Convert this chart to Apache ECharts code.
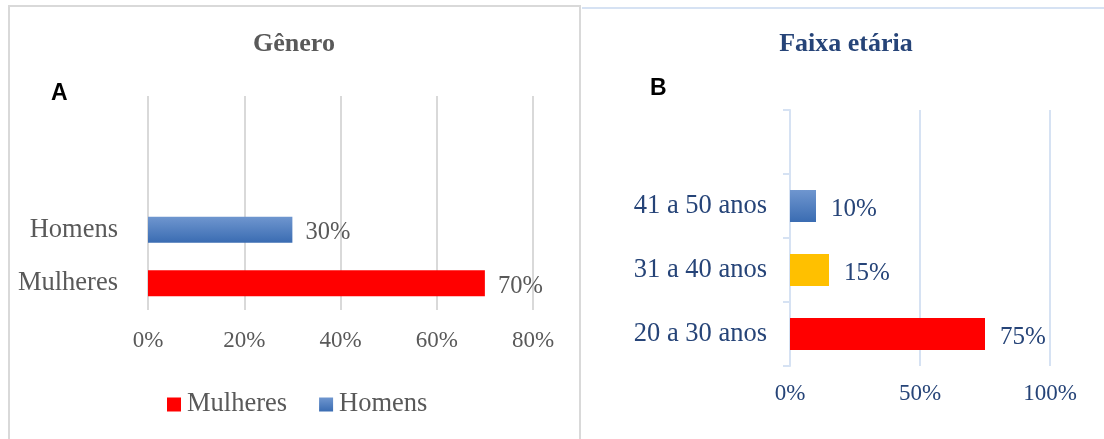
<!DOCTYPE html>
<html>
<head>
<meta charset="utf-8">
<script src="https://cdn.jsdelivr.net/npm/echarts@6/dist/echarts.min.js"></script>
<style>
html,body{margin:0;padding:0;background:#fff;}
#c{width:1104px;height:439px;}
</style>
</head>
<body>
<div id="c"></div>
<script>
// Panel A: Gênero
var genderCategories = ['Mulheres', 'Homens', '', ''];
var mulheresValues = [70, '-', '-', '-'];
var homensValues = ['-', 30, '-', '-'];
var genderTicks = [0, 20, 40, 60, 80];

// Panel B: Faixa etária
var ageCategories = ['20 a 30 anos', '31 a 40 anos', '41 a 50 anos', ''];
var ageValues = [75, 15, 10, '-'];
var ageTicks = [0, 50, 100];

var serif = '"Liberation Serif", "Times New Roman", serif';
var grey = '#595959';
var navy = '#264478';
function blueGradient() {
  return new echarts.graphic.LinearGradient(0, 0, 0, 1, [
    {offset: 0, color: '#6f96cf'},
    {offset: 1, color: '#3a6cb2'}
  ]);
}

var chart = echarts.init(document.getElementById('c'), null, {renderer: 'canvas'});
chart.setOption({
  animation: false,
  backgroundColor: '#ffffff',
  title: [
    {text: 'Gênero', left: 294, top: 31, textAlign: 'center', padding: 0,
     textStyle: {fontFamily: serif, fontWeight: 'bold', fontSize: 26, color: grey}},
    {text: 'Faixa etária', left: 846, top: 31, textAlign: 'center', padding: 0,
     textStyle: {fontFamily: serif, fontWeight: 'bold', fontSize: 26, color: navy}}
  ],
  graphic: [
    {type: 'rect', shape: {x: 9, y: 6, width: 571, height: 440},
     style: {fill: 'none', stroke: '#d9d9d9', lineWidth: 2}, silent: true},
    {type: 'line', shape: {x1: 582, y1: 8, x2: 1104, y2: 8},
     style: {stroke: '#d6e2f3', lineWidth: 2}, silent: true},
    {type: 'text', x: 51, y: 94,
     style: {text: 'A', font: 'bold 23px "Liberation Sans", Arial, sans-serif', fill: '#000', textVerticalAlign: 'middle'}},
    {type: 'text', x: 650, y: 89,
     style: {text: 'B', font: 'bold 23px "Liberation Sans", Arial, sans-serif', fill: '#000', textVerticalAlign: 'middle'}}
  ],
  legend: {
    left: 167, top: 391, itemWidth: 14, itemHeight: 14, itemGap: 32, padding: 0,
    icon: 'rect',
    data: [
      {name: 'Mulheres', itemStyle: {color: '#ff0000'}},
      {name: 'Homens', itemStyle: {color: blueGradient()}}
    ],
    textStyle: {fontFamily: serif, fontSize: 26.5, color: grey, padding: [4, 0, 0, 1]}
  },
  grid: [
    {left: 148, right: 1104 - 533, top: 96, bottom: 439 - 310},
    {left: 790, right: 1104 - 1050, top: 110, bottom: 439 - 366}
  ],
  xAxis: [
    {gridIndex: 0, type: 'value', min: genderTicks[0], max: genderTicks[genderTicks.length - 1],
     interval: genderTicks[1] - genderTicks[0],
     axisLine: {show: false}, axisTick: {show: false},
     splitLine: {show: true, lineStyle: {color: '#d9d9d9', width: 2}},
     axisLabel: {formatter: '{value}%', fontFamily: serif, fontSize: 23, color: grey, margin: 19}},
    {gridIndex: 1, type: 'value', min: ageTicks[0], max: ageTicks[ageTicks.length - 1],
     interval: ageTicks[1] - ageTicks[0],
     axisLine: {show: false}, axisTick: {show: false},
     splitLine: {show: true, lineStyle: {color: '#d6e2f3', width: 2}},
     axisLabel: {formatter: '{value}%', fontFamily: serif, fontSize: 23, color: navy, margin: 16}}
  ],
  yAxis: [
    {gridIndex: 0, type: 'category', data: genderCategories,
     axisLine: {show: false}, axisTick: {show: false},
     axisLabel: {fontFamily: serif, fontSize: 26.5, color: grey, margin: 30, lineHeight: 30, padding: [4, 0, 0, 0]}},
    {gridIndex: 1, type: 'category', data: ageCategories,
     axisLine: {show: true, lineStyle: {color: '#d6e2f3', width: 2}},
     axisTick: {show: true, length: 7, lineStyle: {color: '#d6e2f3', width: 2}},
     axisLabel: {fontFamily: serif, fontSize: 26.5, color: navy, margin: 23, lineHeight: 30, padding: [4, 0, 0, 0]}}
  ],
  series: [
    {name: 'Mulheres', type: 'bar', xAxisIndex: 0, yAxisIndex: 0, stack: 'g',
     data: mulheresValues, barWidth: 26, itemStyle: {color: '#ff0000'},
     label: {show: true, position: 'right', distance: 13, formatter: '{c}%', offset: [0, 3],
             fontFamily: serif, fontSize: 24.5, color: grey}},
    {name: 'Homens', type: 'bar', xAxisIndex: 0, yAxisIndex: 0, stack: 'g',
     data: homensValues, barWidth: 26, itemStyle: {color: blueGradient()},
     label: {show: true, position: 'right', distance: 13, formatter: '{c}%', offset: [0, 3],
             fontFamily: serif, fontSize: 24.5, color: grey}},
    {name: 'Faixa', type: 'bar', xAxisIndex: 1, yAxisIndex: 1,
     data: ageValues.map(function (v, i) {
       var cols = ['#ff0000', '#ffc000', blueGradient(), '#fff'];
       return {value: v, itemStyle: {color: cols[i]}};
     }),
     barWidth: 32,
     label: {show: true, position: 'right', distance: 15, formatter: '{c}%', offset: [0, 3],
             fontFamily: serif, fontSize: 25, color: navy}}
  ]
});
</script>
</body>
</html>
